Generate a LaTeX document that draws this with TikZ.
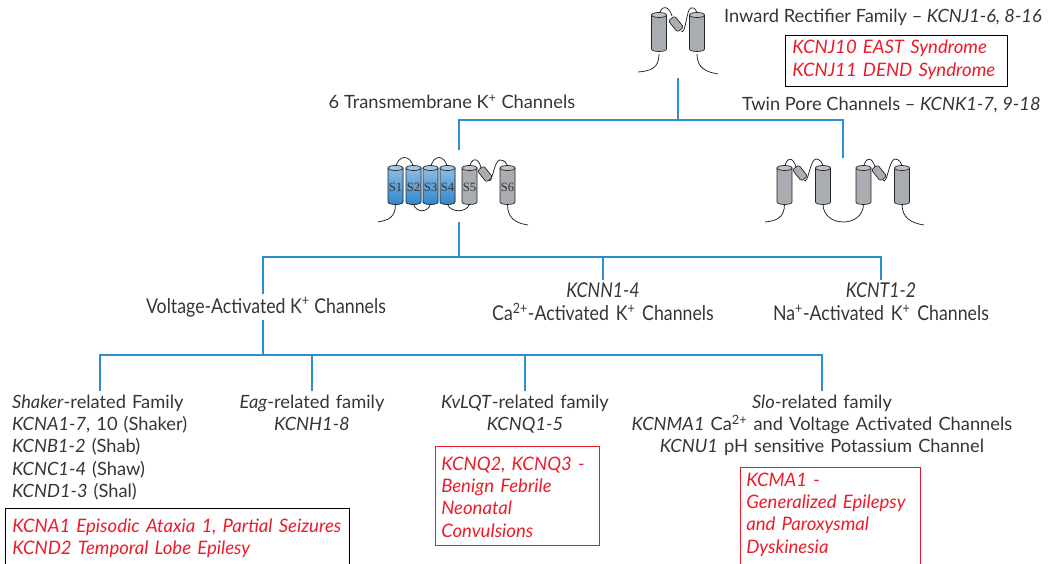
\documentclass[tikz,border=0pt]{standalone}
\usepackage{fontspec}
\setmainfont{Lato}
\newfontfamily\condensed[FakeStretch=0.87]{Lato}
\newfontfamily\helixfont{Liberation Serif}
\usetikzlibrary{positioning}

\definecolor{ink}{HTML}{353535}
\definecolor{treeblue}{HTML}{2A8FD0}
\definecolor{sickred}{HTML}{EC1C2A}
\definecolor{helixblue}{HTML}{2F86CC}
\definecolor{helixgray}{HTML}{A9ACB1}

\tikzset{
  tree/.style={treeblue, line width=1.4pt},
  frame/.style={line width=0.6pt},
  loop/.style={black!85, line width=0.55pt},
  helixline/.style={draw=black!85, line width=0.5pt},
  blueh/.style={top color=helixblue!55!white, bottom color=helixblue},
  bluecap/.style={fill=helixblue!45!white},
  grayh/.style={fill=helixgray},
  graycap/.style={fill=helixgray!75!white},
  helixtext/.style={inner sep=0pt, text=black!80, font=\helixfont\fontsize{9}{9}\selectfont},
  gate/.style={helixline, fill=helixgray, minimum width=0.2cm, minimum height=0.36cm,
    inner sep=0pt, rounded corners=1.2pt},
  lbl/.style={text=ink, font=\fontsize{13}{16}\selectfont, inner sep=2pt},
  narrow/.style={text=ink, font=\condensed\fontsize{14.5}{16}\selectfont, inner sep=2pt},
  sick/.style={text=sickred, font=\fontsize{13.2}{16}\selectfont\itshape, inner sep=0pt,
    align=left, text width=8.8cm},
}

% one membrane helix: name, centre x, top y, colour, label
\newcommand{\helix}[5]{%
  \filldraw[helixline, #4h] ({#2-7.5},#3) -- ({#2-7.5},{#3+34})
    .. controls ({#2-7.5},{#3+37.3}) and ({#2+7.5},{#3+37.3}) .. ({#2+7.5},{#3+34})
    -- ({#2+7.5},#3) -- cycle;
  \filldraw[helixline, #4cap] (#2,#3) ellipse [x radius=7.5, y radius=2.5];
  \node[helixtext] (#1) at (#2,{#3+19}) {#5};
}

\begin{document}
\begin{tikzpicture}[x=0.025cm, y=-0.025cm]
\clip (0,0) rectangle (1054,564);

% inward rectifier
\draw[loop] (659,15) .. controls (661,5) and (669,5) .. (672,16);
\draw[loop] (681,31) .. controls (686,36) and (686,9) .. (691,8) .. controls (695,7) and (697,11) .. (697,15);
\draw[loop] (659,54) .. controls (659,68) and (651,71) .. (638,72);
\draw[loop] (697,54) .. controls (697,68) and (706,72) .. (718,74);
\helix{ir1}{659}{15}{gray}{}
\helix{ir2}{697}{15}{gray}{}
\node[gate, rotate=38] (irgate) at (676,24) {};

% six transmembrane subunit
\draw[loop] (395.5,168) .. controls (398,154) and (411,154) .. (413.5,168);
\draw[loop] (413.5,204) .. controls (416,213) and (428,213) .. (430.5,204);
\draw[loop] (430.5,168) .. controls (433,154) and (445,154) .. (447.5,168);
\draw[loop] (447.5,204) .. controls (450,213) and (467,213) .. (469.5,204);
\draw[loop] (469.5,168) .. controls (471,157) and (479,157) .. (481,168);
\draw[loop] (489,180) .. controls (492,185) and (494,160) .. (500,160) .. controls (504,160) and (507.5,163) .. (507.5,168);
\draw[loop] (395.5,204) .. controls (395.5,218) and (388,220) .. (378,222);
\draw[loop] (507.5,204) .. controls (507.5,218) and (515,223) .. (528,225);
\helix{S1}{395.5}{168}{blue}{S1}
\helix{S2}{413.5}{168}{blue}{S2}
\helix{S3}{430.5}{168}{blue}{S3}
\helix{S4}{447.5}{168}{blue}{S4}
\helix{S5}{469.5}{168}{gray}{S5}
\helix{S6}{507.5}{168}{gray}{S6}
\node[gate, rotate=38] (tmgate) at (485,174) {};

% twin pore
\draw[loop] (784.5,168) .. controls (786,157) and (793,156) .. (796,167);
\draw[loop] (804,180) .. controls (808,186) and (810,159) .. (816,159) .. controls (820,159) and (823,163) .. (823,168);
\draw[loop] (823,204) .. controls (823,228) and (863.5,228) .. (863.5,204);
\draw[loop] (863.5,168) .. controls (865,157) and (872,156) .. (875,167);
\draw[loop] (883,180) .. controls (887,186) and (889,159) .. (895,159) .. controls (899,159) and (902,163) .. (902,168);
\draw[loop] (784.5,204) .. controls (784.5,218) and (776,221) .. (765,222);
\draw[loop] (902,204) .. controls (902,218) and (911,223) .. (924,225);
\helix{tp1}{784.5}{168}{gray}{}
\helix{tp2}{823}{168}{gray}{}
\helix{tp3}{863.5}{168}{gray}{}
\helix{tp4}{902}{168}{gray}{}
\node[gate, rotate=38] (tpgate1) at (800,173) {};
\node[gate, rotate=38] (tpgate2) at (879,173) {};

% labels
\node[lbl, anchor=base west] (irlab) at (721,23) {Inward Rectifier Family -- \textit{KCNJ1-6, 8-16}};
\node[lbl, anchor=base] (tmlab) at (452,109) {6 Transmembrane K\textsuperscript{+} Channels};
\node[lbl, anchor=base west] (tplab) at (739,111) {Twin Pore Channels -- \textit{KCNK1-7, 9-18}};

\node[narrow, anchor=base] (volt) at (266,313) {Voltage-Activated K\textsuperscript{+} Channels};
\node[narrow, anchor=base, align=center, text width=7cm] (ca) at (603,298)
  {\textit{KCNN1-4}\\Ca\textsuperscript{2+}-Activated K\textsuperscript{+} Channels};
\node[narrow, anchor=base, align=center, text width=7cm] (na) at (881,298)
  {\textit{KCNT1-2}\\Na\textsuperscript{+}-Activated K\textsuperscript{+} Channels};

\node[lbl, anchor=base west, align=left, text width=4.4cm] (shaker) at (9,408)
  {\textit{Shaker}-related Family\\\textit{KCNA1-7}, 10 (Shaker)\\\textit{KCNB1-2} (Shab)\\\textit{KCNC1-4} (Shaw)\\\textit{KCND1-3} (Shal)};
\node[lbl, anchor=base, align=center, text width=5cm] (eag) at (312,408)
  {\textit{Eag}-related family\\\textit{KCNH1-8}};
\node[lbl, anchor=base, align=center, text width=5cm] (kvlqt) at (525,408)
  {\textit{KvLQT}-related family\\\textit{KCNQ1-5}};
\node[lbl, anchor=base, align=center, text width=11cm] (slo) at (822,408)
  {\textit{Slo}-related family\\\textit{KCNMA1} Ca\textsuperscript{2+} and Voltage Activated Channels\\\textit{KCNU1} pH sensitive Potassium Channel};

% disease boxes
\node[sick, anchor=base west] (kcnj) at (792,54) {KCNJ10 EAST Syndrome\\KCNJ11 DEND Syndrome};
\node[sick, anchor=base west] (kcna) at (12,532) {KCNA1 Episodic Ataxia 1, Partial Seizures\\KCND2 Temporal Lobe Epilesy};
\node[sick, anchor=base west] (kcnq) at (441,470) {KCNQ2, KCNQ3 -\\Benign Febrile\\Neonatal\\Convulsions};
\node[sick, anchor=base west] (kcma) at (746,486) {KCMA1 -\\Generalized Epilepsy\\and Paroxysmal\\Dyskinesia};
\draw[frame] (785,35) rectangle (1007,86);
\draw[frame] (5,508) rectangle (349,590);
\draw[frame, sickred] (435,446) rectangle (599,545);
\draw[frame, sickred] (740,467) rectangle (920,590);

% tree
\coordinate (irfoot) at (678,78);
\coordinate (fork1) at (678,120);
\coordinate (tmhead) at (459,150);
\coordinate (tphead) at (843,158);
\coordinate (tmfoot) at (459,222);
\coordinate (fork2) at (459,257);
\coordinate (fork3) at (263,355);
\draw[tree] (irfoot) -- (fork1);
\draw[tree] (tmhead) |- (fork1) -| (tphead);
\draw[tree] (tmfoot) -- (fork2);
\draw[tree] (volt.north -| fork3) |- (fork2) -| (na.north);
\draw[tree] (fork2) -| (ca.north);
\draw[tree] (volt.south -| fork3) -- (fork3);
\draw[tree] (shaker.north) |- (fork3) -| (slo.north);
\draw[tree] (eag.north) -- (eag.north |- fork3);
\draw[tree] (kvlqt.north) -- (kvlqt.north |- fork3);
\end{tikzpicture}
\end{document}
